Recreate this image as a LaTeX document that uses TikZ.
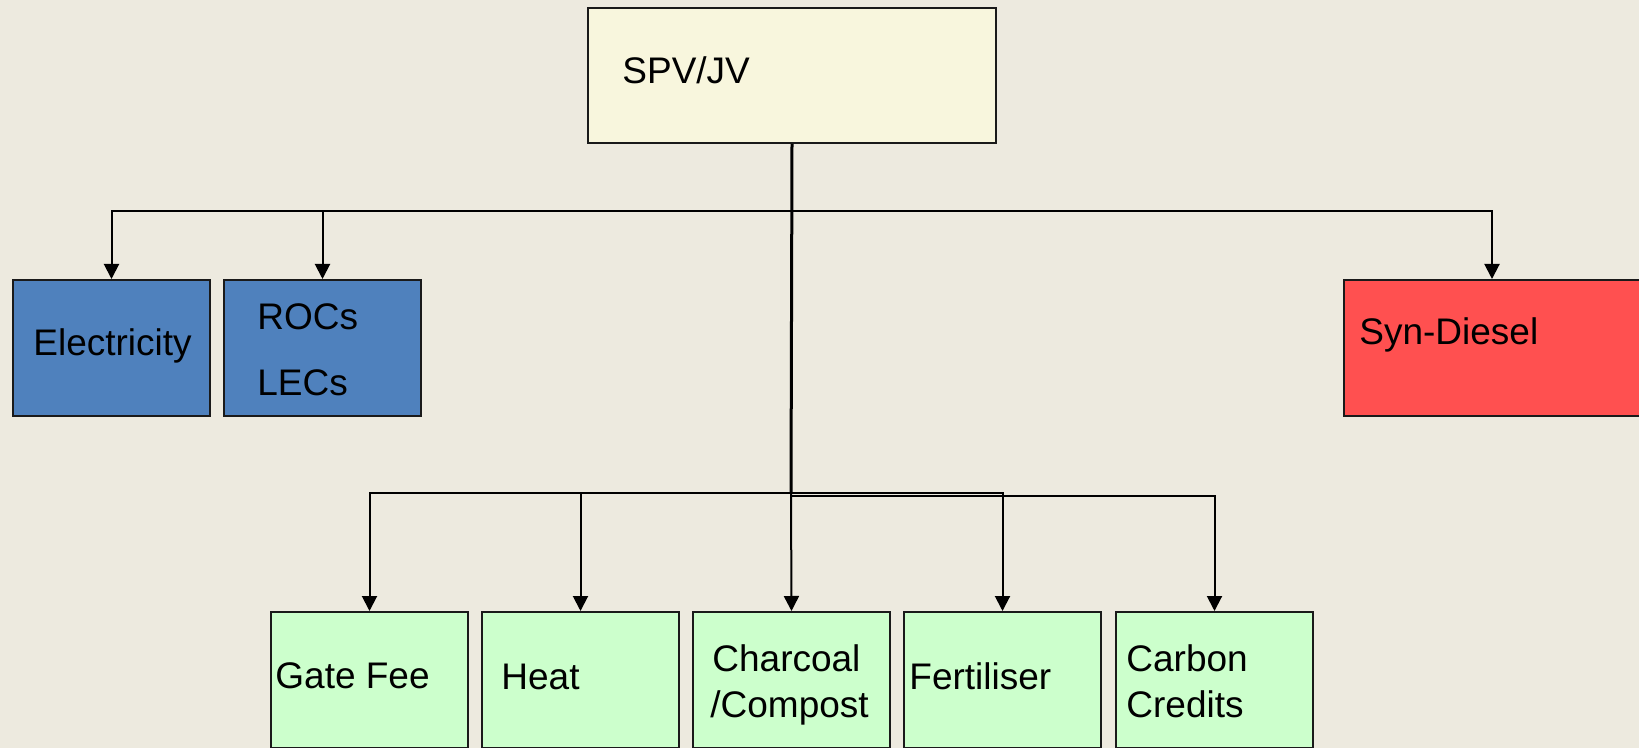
\documentclass[tikz,border=0pt]{standalone}
\usepackage{fontspec}
\setmainfont{Liberation Sans}
\usetikzlibrary{arrows.meta}
\definecolor{bgc}{HTML}{EDEADF}
\definecolor{spvc}{HTML}{F8F6DD}
\definecolor{bluec}{HTML}{4F81BD}
\definecolor{redc}{HTML}{FF5050}
\definecolor{greenc}{HTML}{CCFFCC}
\definecolor{edgec}{HTML}{1A1A1A}
\tikzset{
  boxbase/.style={draw=edgec, line width=1pt, anchor=north west, inner sep=0pt, rectangle},
  spvbox/.style={boxbase, fill=spvc, minimum width=204pt, minimum height=67.5pt},
  bluebox/.style={boxbase, fill=bluec, minimum width=98.5pt, minimum height=68pt},
  redbox/.style={boxbase, fill=redc, minimum width=149pt, minimum height=68pt},
  greenbox/.style={boxbase, fill=greenc, minimum width=98.5pt, minimum height=68pt},
  lbl/.style={anchor=base west, inner sep=0pt, font=\fontsize{18.5}{22}\selectfont, text=black},
  conn/.style={line width=1pt, draw=black, -{Triangle[length=7.5pt,width=7.5pt]}},
  stem/.style={line width=1.5pt, draw=black}
}
\begin{document}
\begin{tikzpicture}[x=0.5pt,y=-0.5pt]
\useasboundingbox (0,0) rectangle (1639,748);
\fill[bgc] (0,0) rectangle (1639,748);

% boxes
\node[spvbox] (spv) at (587,7) {};
\node[bluebox] (elec) at (12,279) {};
\node[bluebox] (rocs) at (223,279) {};
\node[redbox] (syn) at (1343,279) {};
\node[greenbox] (gate) at (270,611) {};
\node[greenbox] (heat) at (481,611) {};
\node[greenbox] (char) at (692,611) {};
\node[greenbox] (fert) at (903,611) {};
\node[greenbox] (carb) at (1115,611) {};

% labels
\node[lbl] (tspv) at (622,84) {SPV/JV};
\node[lbl] (telec) at (33,356) {Electricity};
\node[lbl] (trocs) at (257,330) {ROCs};
\node[lbl] (tlecs) at (257,396) {LECs};
\node[lbl] (tsyn) at (1359,345) {Syn-Diesel};
\node[lbl] (tgate) at (275,688) {Gate Fee};
\node[lbl] (theat) at (501,689) {Heat};
\node[lbl] (tchar) at (712,671) {Charcoal};
\node[lbl] (tcomp) at (710,717) {/Compost};
\node[lbl] (tfert) at (909,689) {Fertiliser};
\node[lbl] (tcarb) at (1126,671) {Carbon};
\node[lbl] (tcred) at (1126,717) {Credits};

% junctions
\coordinate (top) at (791,211);
\coordinate (junc) at (791,493);
\coordinate (juncb) at (791,496);

% connectors
\draw[stem] (spv.south) -- (junc);
\draw[conn] (top) -| (elec.north);
\draw[conn] (top) -| (rocs.north);
\draw[conn] (top) -| (1492,279) coordinate (synin);
\draw[conn] (junc) -| (gate.north);
\draw[conn] (junc) -| (heat.north);
\draw[conn] (junc) -- (char.north);
\draw[conn] (junc) -| (fert.north);
\draw[conn] (juncb) -| (carb.north);
\end{tikzpicture}
\end{document}
